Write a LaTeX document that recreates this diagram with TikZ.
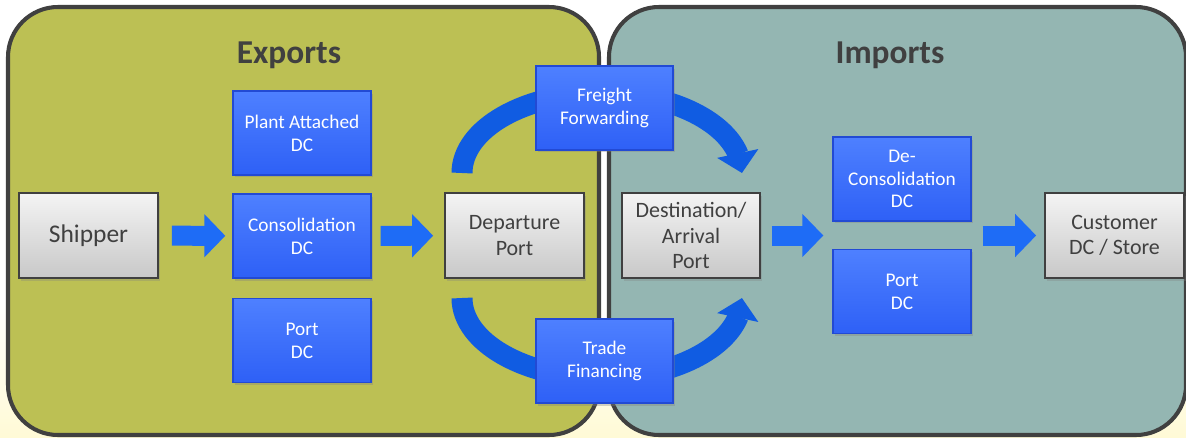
\documentclass[tikz,border=0pt]{standalone}
\usepackage{tikz}
\usepackage{fontspec}
\setmainfont{Carlito}
\usetikzlibrary{arrows.meta,bending,shadows}

\definecolor{paleyel}{RGB}{255,250,214}
\definecolor{expfill}{RGB}{188,192,84}
\definecolor{impfill}{RGB}{148,182,178}
\definecolor{panelline}{RGB}{64,64,64}
\definecolor{bluetop}{RGB}{78,128,255}
\definecolor{bluebot}{RGB}{46,96,246}
\definecolor{blueline}{RGB}{34,74,212}
\definecolor{greytop}{RGB}{244,244,244}
\definecolor{greybot}{RGB}{200,200,200}
\definecolor{greytext}{RGB}{64,64,64}
\definecolor{flowblue}{RGB}{30,108,246}
\definecolor{arcblue}{RGB}{16,92,226}

\begin{document}
\begin{tikzpicture}[x=0.02cm,y=-0.02cm]
		\tikzstyle{every node}+=[inner sep=0pt]
		\tikzstyle{panel}=[draw=panelline,line width=2.3pt,rounded corners=1cm]
		\tikzstyle{title}=[font=\fontsize{19}{22}\selectfont\bfseries,text=greytext]
		\tikzstyle{bluebox}=[rectangle,top color=bluetop,bottom color=bluebot,draw=blueline,line width=0.8pt,
			minimum width=2.76cm,minimum height=1.68cm,align=center,text=white,
			font=\fontsize{11}{13}\selectfont,
			drop shadow={opacity=0.35,shadow xshift=0.04cm,shadow yshift=-0.05cm}]
		\tikzstyle{greybox}=[rectangle,top color=greytop,bottom color=greybot,draw=panelline,line width=1pt,
			minimum width=2.78cm,minimum height=1.7cm,align=center,text=greytext,
			font=\fontsize{12.5}{14.5}\selectfont,
			drop shadow={opacity=0.3,shadow xshift=0.04cm,shadow yshift=-0.05cm}]
		\tikzstyle{fatarrow}=[draw=flowblue,line width=0.4cm,-{Triangle[width=0.84cm,length=0.42cm]}]
		\tikzstyle{flowarc}=[draw=arcblue,line width=0.42cm,-{Triangle[width=0.82cm,length=0.4cm]}]
		\useasboundingbox (0,0) rectangle (1186,437);
		\fill [white] (0,0) rectangle (1186,437);
		\fill [top color=white,bottom color=paleyel] (0,300) rectangle (1186,437);
		\draw [panel,fill=expfill] (8,7) rectangle (599,435);
		\draw [panel,fill=impfill] (609,7) rectangle (1186,435);
		\node [title] (exports) at (289,55) {Exports};
		\node [title] (imports) at (890,55) {Imports};
		\coordinate (arcTL) at (462,173);
		\coordinate (arcBL) at (462,298);
		\draw [flowarc] (arcTL) arc[start angle=180,end angle=0,x radius=2.8cm,y radius=1.6cm];
		\draw [flowarc] (arcBL) arc[start angle=180,end angle=360,x radius=2.8cm,y radius=1.6cm];
		\node [greybox,font=\fontsize{14.5}{16}\selectfont] (ship) at (88.5,235.5) {Shipper};
		\node [bluebox] (plant) at (302,133) {Plant Attached\\DC};
		\node [bluebox] (cons) at (302,236) {Consolidation\\DC};
		\node [bluebox] (portl) at (302,340.5) {Port\\DC};
		\node [greybox] (dep) at (514.5,235.5) {Departure\\Port};
		\node [bluebox,minimum width=2.74cm] (ff) at (604.5,108) {Freight\\Forwarding};
		\node [bluebox,minimum width=2.74cm] (tf) at (604.5,361) {Trade\\Financing};
		\node [greybox,minimum width=2.76cm] (dest) at (691,235.5) {Destination/\\Arrival\\Port};
		\node [bluebox] (decon) at (902,179) {De-\\Consolidation\\DC};
		\node [bluebox] (portr) at (902,291.5) {Port\\DC};
		\node [greybox] (cust) at (1114.5,235.5) {Customer\\DC / Store};
		\draw [fatarrow,shorten <=0.26cm,shorten >=0.14cm] (ship) -- (cons);
		\draw [fatarrow,shorten <=0.18cm,shorten >=0.22cm] (cons) -- (dep);
		\draw [fatarrow,shorten <=0.22cm,shorten >=0.18cm] (dest.east) -- (dest.east -| decon.west);
		\draw [fatarrow,shorten <=0.22cm,shorten >=0.16cm] (cust.west -| decon.east) -- (cust.west);
	\end{tikzpicture}
\end{document}
